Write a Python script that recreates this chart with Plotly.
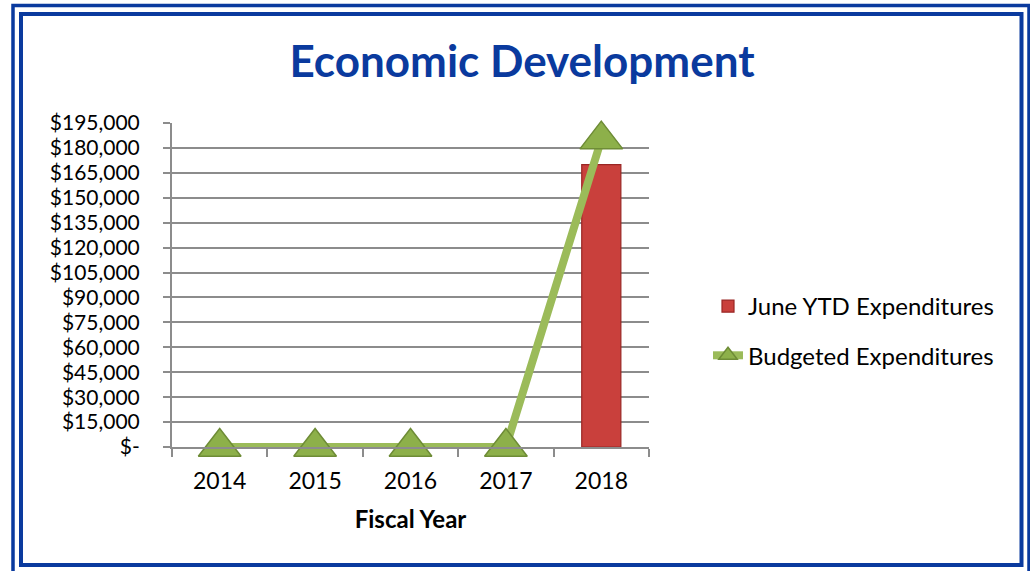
import plotly.graph_objects as go

# Fiscal years and the two series
fiscal_years = ["2014", "2015", "2016", "2017", "2018"]
june_ytd_expenditures = [None, None, None, None, 170000]
budgeted_expenditures = [0, 0, 0, 0, 185000]

# Y axis ticks
y_tick_values = [0, 15000, 30000, 45000, 60000, 75000, 90000, 105000,
                 120000, 135000, 150000, 165000, 180000, 195000]
y_tick_labels = ["$-", "$15,000", "$30,000", "$45,000", "$60,000", "$75,000",
                 "$90,000", "$105,000", "$120,000", "$135,000", "$150,000",
                 "$165,000", "$180,000", "$195,000"]

W, H = 1030, 571
ML, MR, MT, MB = 172, 381, 123, 124
PW, PH = W - ML - MR, H - MT - MB

FONT = "Lato"
BLUE = "#0A3A9E"
GRID = "#8C8C8C"


def px_x(x):
    return (x - ML) / PW


def px_y(y):
    return 1 - (y - MT) / PH


fig = go.Figure()

fig.add_trace(go.Bar(
    x=fiscal_years,
    y=june_ytd_expenditures,
    name="June YTD Expenditures",
    width=0.41,
    marker=dict(color="#C9403C", line=dict(color="#9A2624", width=1.2)),
    legendgroup="a",
))

fig.add_trace(go.Scatter(
    x=fiscal_years,
    y=budgeted_expenditures,
    name="Budgeted Expenditures",
    mode="lines+markers",
    line=dict(color="#9BBB59", width=8),
    marker=dict(symbol="triangle-up", size=37, color="#8DB04A",
                line=dict(color="#6E8C36", width=1.5)),
    cliponaxis=False,
    legendgroup="b",
))

# Double blue frame around the chart
shapes = [
    dict(type="path", xref="paper", yref="paper",
         path=("M {x0},{y1} L {x1},{y1} L {x1},{y0} L {x0},{y0} Z").format(
             x0=px_x(13), x1=px_x(1029), y0=px_y(576), y1=px_y(5.5)),
         line=dict(color=BLUE, width=3.5), layer="above"),
    dict(type="rect", xref="paper", yref="paper",
         x0=px_x(21), x1=px_x(1021.5), y0=px_y(565), y1=px_y(14),
         line=dict(color=BLUE, width=4), layer="above"),
]

fig.update_layout(
    width=W, height=H,
    margin=dict(l=ML, r=MR, t=MT, b=MB, pad=0),
    paper_bgcolor="white",
    plot_bgcolor="white",
    font=dict(family=FONT, color="black", size=21),
    title=dict(
        text="<b>Economic Development</b>",
        font=dict(family=FONT, size=44, color=BLUE),
        x=522 / W, xanchor="center",
        y=1 - 62 / H, yanchor="middle",
        xref="container", yref="container",
    ),
    showlegend=True,
    legend=dict(
        x=708 / W, y=1 - 331 / H, xref="container", yref="container",
        xanchor="left", yanchor="middle",
        font=dict(family=FONT, size=24, color="black"),
        traceorder="grouped", tracegroupgap=15,
        bgcolor="rgba(0,0,0,0)",
    ),
    bargap=0.59,
    shapes=shapes,
    xaxis=dict(
        type="category",
        range=[-0.5, 4.5],
        tickson="boundaries",
        ticks="outside", ticklen=8, tickwidth=1.5, tickcolor=GRID,
        ticklabelstandoff=12,
        showline=True, linecolor=GRID, linewidth=2,
        showgrid=False,
        tickfont=dict(family=FONT, size=23, color="black"),
        title=dict(text="<b>Fiscal Year</b>",
                   font=dict(family=FONT, size=24, color="black"),
                   standoff=19),
        fixedrange=True,
    ),
    yaxis=dict(
        range=[0, 195000],
        tickmode="array", tickvals=y_tick_values, ticktext=y_tick_labels,
        ticks="outside", ticklen=7, tickwidth=1.5, tickcolor=GRID,
        ticklabelstandoff=19,
        showline=True, linecolor=GRID, linewidth=2,
        showgrid=True, gridcolor=GRID, gridwidth=1.5,
        zeroline=False,
        tickfont=dict(family=FONT, size=21, color="black"),
        fixedrange=True,
    ),
)

fig.write_html("out.html")
